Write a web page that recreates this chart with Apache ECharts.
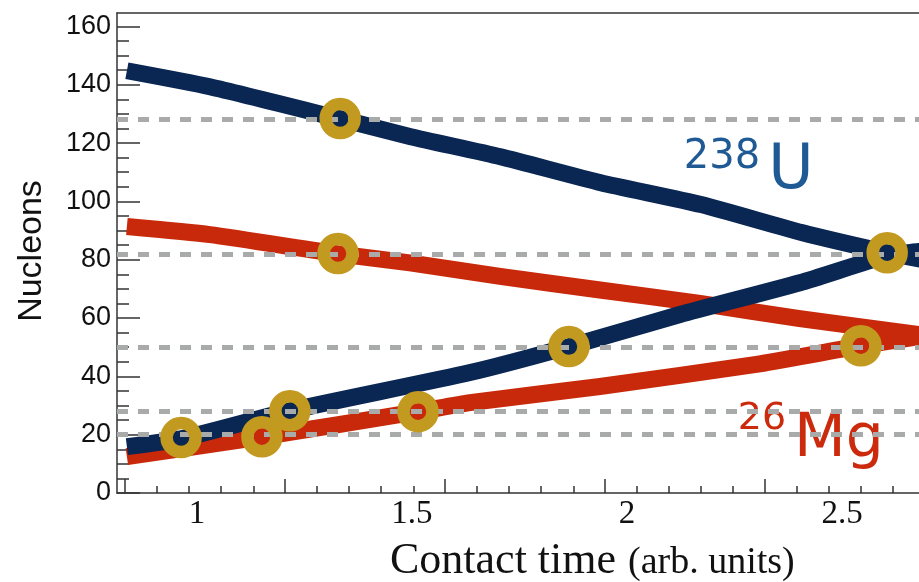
<!DOCTYPE html>
<html><head><meta charset="utf-8">
<script src="https://cdn.jsdelivr.net/npm/echarts@6/dist/echarts.min.js"></script>
<style>html,body{margin:0;padding:0;background:#fff}#c{width:919px;height:582px}</style>
</head><body><div id="c"></div>
<script>
// ---- data ----
// 238U-like (blue) descending band
const blueDownX = [0.837, 1.030, 1.333, 1.497, 1.706, 1.939, 2.172, 2.406, 2.605, 2.679, 2.726];
const blueDownY = [144.8, 139.3, 128.3, 122.2, 115.3, 106.4, 98.9, 89.3, 82.4, 80.3, 79.2];
// red descending band
const redDownX = [0.837, 1.030, 1.328, 1.495, 1.705, 1.937, 2.170, 2.402, 2.679, 2.726];
const redDownY = [91.4, 88.6, 82.0, 78.9, 74.3, 69.6, 65.0, 59.8, 54.3, 53.2];
// blue ascending band
const blueUpX = [0.837, 0.963, 1.216, 1.635, 1.865, 2.123, 2.402, 2.605, 2.679, 2.726];
const blueUpY = [15.9, 18.6, 28.2, 41.3, 50.2, 61.2, 72.1, 81.4, 82.8, 83.8];
// red ascending band
const redUpX = [0.837, 1.151, 1.514, 1.635, 1.937, 2.309, 2.544, 2.679, 2.726];
const redUpY = [12.5, 19.3, 27.9, 31.0, 36.5, 44.3, 50.5, 53.6, 54.6];
// highlighted rings
const ringX = [0.963, 1.151, 1.216, 1.333, 1.328, 1.514, 1.865, 2.544, 2.605];
const ringY = [19.0, 19.3, 28.2, 128.4, 82.1, 27.9, 50.2, 50.5, 82.4];
// dashed reference levels
const dashedLevels = [128, 82, 50, 28, 20];
// axis ticks / labels
const xLabelValues = [1, 1.5, 2, 2.5];
const xLabelTexts = ['1', '1.5', '2', '2.5'];
const xMajorTicks = [0.833, 1.205, 1.577, 1.949, 2.321];
const xMinorTicks = [0.907, 0.982, 1.056, 1.131, 1.279, 1.354, 1.428, 1.503, 1.651, 1.726, 1.800, 1.875,
                     2.023, 2.098, 2.172, 2.247, 2.395, 2.470, 2.544, 2.619];
const yLabelValues = [0, 20, 40, 60, 80, 100, 120, 140, 160];
const yMinorTicks = [5, 10, 15, 25, 30, 35, 45, 50, 55, 65, 70, 75, 85, 90, 95, 105, 110, 115,
                     125, 130, 135, 145, 150, 155];

const X_MIN = 0.814, X_MAX = 2.679, Y_MIN = 0, Y_MAX = 164.6;
const BLUE = '#0a2653', RED = '#c8290a', GOLD = '#c39a20', AXIS = '#333';

const pairs = (xs, ys) => xs.map((v, i) => [v, ys[i]]);

function band(name, xs, ys, color) {
  return {
    name, type: 'line', data: pairs(xs, ys), showSymbol: false, smooth: 0.2,
    silent: true, z: 3, clip: true,
    lineStyle: { color, width: 17, cap: 'butt', join: 'round', opacity: 1 }
  };
}

const baseX = { type: 'value', min: X_MIN, max: X_MAX, position: 'bottom', splitLine: { show: false } };
const baseY = { type: 'value', min: Y_MIN, max: Y_MAX, position: 'left', splitLine: { show: false } };

const option = {
  animation: false,
  backgroundColor: '#fff',
  grid: { left: 117, top: 13, right: 0, bottom: 89, show: false },
  xAxis: [
    Object.assign({}, baseX, {
      axisLine: { onZero: false, lineStyle: { color: AXIS, width: 1.5 } },
      axisTick: { show: false },
      axisLabel: {
        customValues: xLabelValues,
        formatter: v => xLabelTexts[xLabelValues.indexOf(v)] ?? String(v),
        fontFamily: 'Liberation Serif', fontSize: 33, color: '#111', margin: 5
      }
    }),
    Object.assign({}, baseX, {
      axisLine: { show: false, onZero: false }, axisLabel: { show: false },
      axisTick: { customValues: xMajorTicks, inside: true, length: 14, lineStyle: { color: AXIS, width: 1.5 } }
    }),
    Object.assign({}, baseX, {
      axisLine: { show: false, onZero: false }, axisLabel: { show: false },
      axisTick: { customValues: xMinorTicks, inside: true, length: 7, lineStyle: { color: AXIS, width: 1.5 } }
    }),
    Object.assign({}, baseX, {
      position: 'top',
      axisLine: { show: true, onZero: false, lineStyle: { color: AXIS, width: 1.5 } },
      axisLabel: { show: false }, axisTick: { show: false }
    })
  ],
  yAxis: [
    Object.assign({}, baseY, {
      axisLine: { show: true, onZero: false, lineStyle: { color: AXIS, width: 1.5 } },
      axisTick: { customValues: yLabelValues, inside: true, length: 23, lineStyle: { color: AXIS, width: 1.5 } },
      axisLabel: { customValues: yLabelValues, fontFamily: 'Liberation Sans', fontSize: 27, color: '#111', margin: 6 }
    }),
    Object.assign({}, baseY, {
      axisLine: { show: false, onZero: false }, axisLabel: { show: false },
      axisTick: { customValues: yMinorTicks, inside: true, length: 12, lineStyle: { color: AXIS, width: 1.5 } }
    })
  ],
  series: [
    {
      name: 'levels', type: 'line', data: [], silent: true, z: 1,
      markLine: {
        silent: true, symbol: ['none', 'none'], label: { show: false },
        lineStyle: { type: [11, 10], width: 5, color: '#a9abaa', opacity: 1 },
        emphasis: { disabled: true },
        data: dashedLevels.map(v => ({ yAxis: v }))
      }
    },
    band('redDown', redDownX, redDownY, RED),
    band('redUp', redUpX, redUpY, RED),
    band('blueDown', blueDownX, blueDownY, BLUE),
    band('blueUp', blueUpX, blueUpY, BLUE),
    {
      name: 'rings', type: 'scatter', data: pairs(ringX, ringY), symbol: 'circle', symbolSize: 29,
      silent: true, z: 5,
      itemStyle: { color: 'rgba(0,0,0,0)', borderColor: GOLD, borderWidth: 12.5, opacity: 1 }
    }
  ],
  graphic: [
    { type: 'text', x: 32, y: 251, rotation: Math.PI / 2,
      style: { text: 'Nucleons', font: '34px "Liberation Sans"', fill: '#111', textAlign: 'center', textVerticalAlign: 'middle' } },
    { type: 'text', x: 390, y: 561,
      style: { text: 'Contact time', font: '44px "Liberation Serif"', fill: '#111', textAlign: 'left', textVerticalAlign: 'middle' } },
    { type: 'text', x: 628, y: 563,
      style: { text: '(arb. units)', font: '38px "Liberation Serif"', fill: '#111', textAlign: 'left', textVerticalAlign: 'middle' } },
    { type: 'text', x: 722, y: 158,
      style: { text: '238', font: '40px "DejaVu Sans"', fill: '#1f5a94', textAlign: 'center', textVerticalAlign: 'middle' } },
    { type: 'text', x: 791, y: 172,
      style: { text: 'U', font: '62px "DejaVu Sans"', fill: '#1f5a94', textAlign: 'center', textVerticalAlign: 'middle' } },
    { type: 'text', x: 762, y: 419,
      style: { text: '26', font: '38px "DejaVu Sans"', fill: '#cc2a0c', textAlign: 'center', textVerticalAlign: 'middle' } },
    { type: 'text', x: 839, y: 440,
      style: { text: 'Mg', font: '60px "DejaVu Sans"', fill: '#cc2a0c', textAlign: 'center', textVerticalAlign: 'middle' } }
  ]
};

const chart = echarts.init(document.getElementById('c'), null, { renderer: 'canvas' });
chart.setOption(option);
</script>
</body></html>
